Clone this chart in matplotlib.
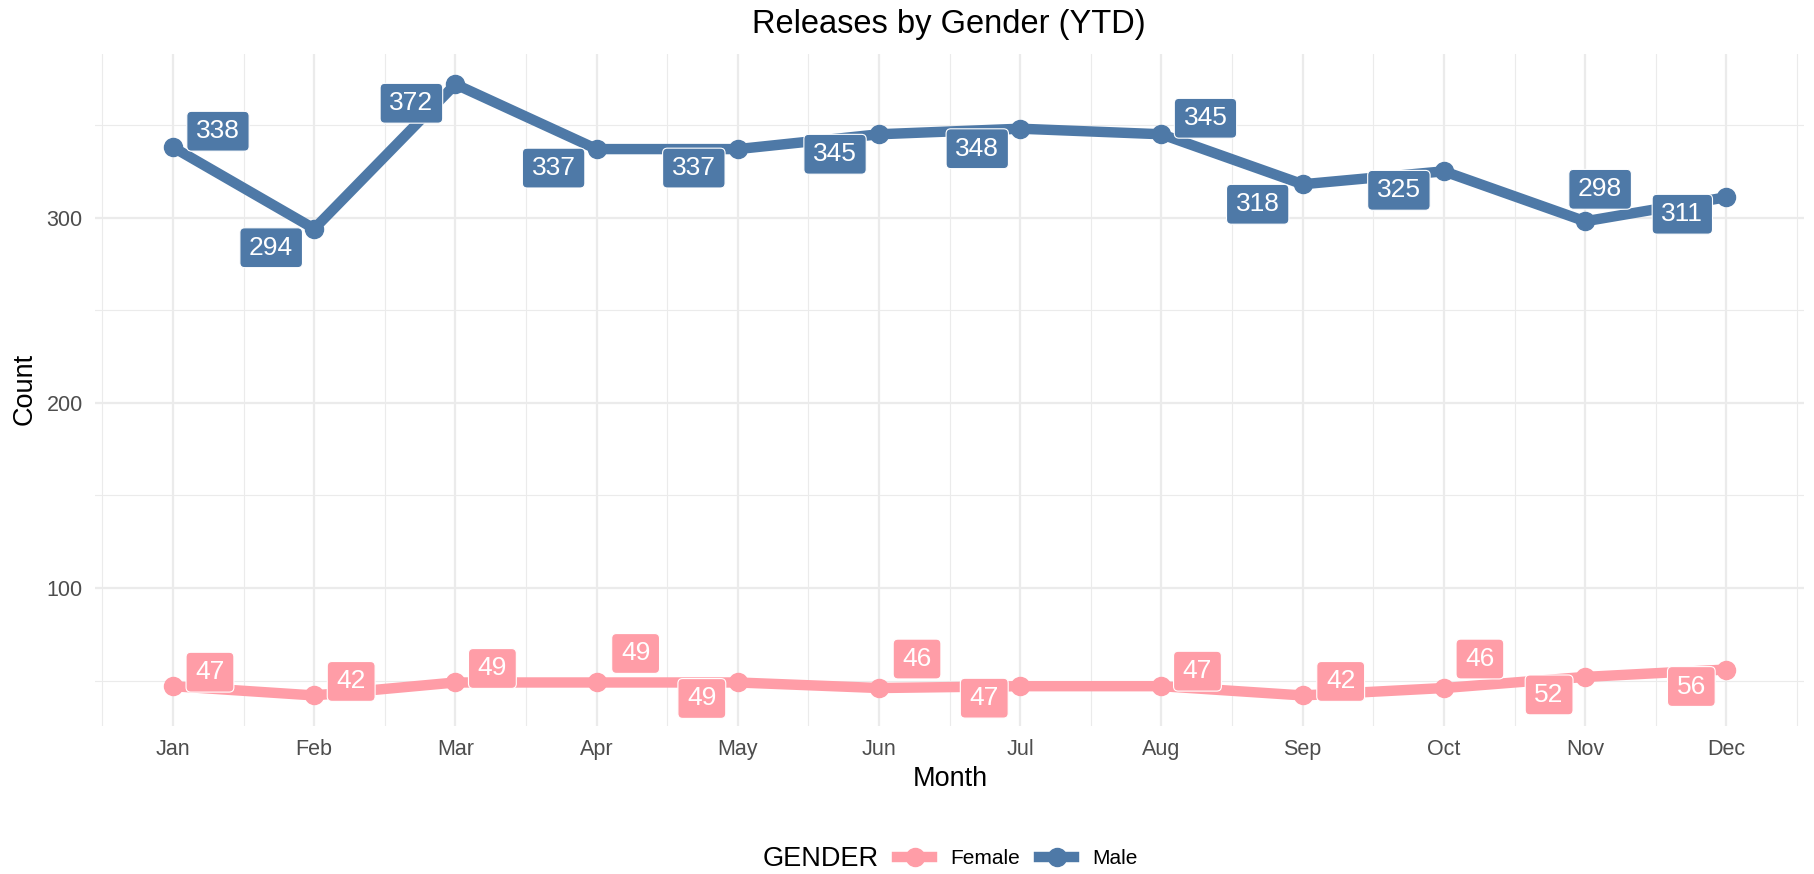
import matplotlib
matplotlib.use("Agg")
import matplotlib.pyplot as plt
from matplotlib.lines import Line2D
from matplotlib.patches import BoxStyle
import numpy as np

plt.rcParams['font.family'] = ['Liberation Sans', 'DejaVu Sans']

months = ['Jan', 'Feb', 'Mar', 'Apr', 'May', 'Jun',
          'Jul', 'Aug', 'Sep', 'Oct', 'Nov', 'Dec']
female = [47, 42, 49, 49, 49, 46, 47, 47, 42, 46, 52, 56]
male = [338, 294, 372, 337, 337, 345, 348, 345, 318, 325, 298, 311]

# label offsets (pixels) mimicking ggrepel placement
male_off = [(45, -16), (-43, 19), (-44, 19), (-43, 19), (-44, 19), (-44, 20),
            (-43, 20), (44, -16), (-45, 20), (-45, 19), (15, -32), (-44, 17)]
female_off = [(37, -14), (37, -14), (37, -14), (39, -29), (-36, 16), (38, -29),
              (-36, 12), (36, -15), (38, -14), (36, -29), (-36, 18), (-35, 17)]

c_female = '#FF9DA7'
c_male = '#4E79A7'


def label_box(x0, y0, width, height, mutation_size):
    # geom_label-like box: wider horizontal padding than vertical
    px, py = 0.35 * mutation_size, 0.30 * mutation_size
    rnd = BoxStyle.Round(pad=0, rounding_size=0.18)
    return rnd(x0 - px, y0 - py, width + 2 * px, height + 2 * py, mutation_size)


W, H = 1815, 874
fig = plt.figure(figsize=(W / 100, H / 100), dpi=100)
ax = fig.add_axes([95.3 / W, 1 - 726 / H, (1804 - 95.3) / W, (726 - 53.7) / H])

x = np.arange(1, len(months) + 1)

ax.set_xlim(0.45, 12.55)
ax.set_ylim(25.5, 388.5)
ax.set_xticks(x)
ax.set_xticklabels(months)
ax.set_yticks([100, 200, 300])
ax.set_xticks(np.arange(0.5, 13, 1), minor=True)
ax.set_yticks([50, 150, 250, 350], minor=True)
ax.grid(which='major', color='#EBEBEB', lw=1.6)
ax.grid(which='minor', color='#EBEBEB', lw=0.8)
ax.set_axisbelow(True)
for s in ax.spines.values():
    s.set_visible(False)
ax.tick_params(which='both', length=0)
ax.tick_params(axis='x', labelsize=15.5, colors='#4D4D4D', pad=9.5)
ax.tick_params(axis='y', labelsize=15.5, colors='#4D4D4D', pad=9)

for vals, offs, col in [(female, female_off, c_female), (male, male_off, c_male)]:
    ax.plot(x, vals, color=col, lw=7.5, marker='o', ms=13, zorder=3,
            solid_capstyle='butt')
    for xi, v, (dx, dy) in zip(x, vals, offs):
        ax.annotate(str(v), (xi, v), xytext=(dx, -dy), textcoords='offset pixels',
                    ha='center', va='center', color='white', fontsize=19, zorder=5,
                    bbox=dict(boxstyle=label_box, fc=col, ec='white', lw=0.8))

fig.text(949 / W, 1 - 24 / H, 'Releases by Gender (YTD)', ha='center', va='center',
         fontsize=23.5)
fig.text(950 / W, 1 - 779 / H, 'Month', ha='center', va='center', fontsize=19.5)
fig.text(25 / W, 1 - 389 / H, 'Count', ha='center', va='center', fontsize=19.5,
         rotation=90)

# legend
fig.text(763 / W, 1 - 859 / H, 'GENDER', ha='left', va='center', fontsize=19.5)
handles = [Line2D([], [], color=c_female, lw=7.5, marker='o', ms=13),
           Line2D([], [], color=c_male, lw=7.5, marker='o', ms=13)]
fig.legend(handles, ['Female', 'Male'], loc='center left',
           bbox_to_anchor=(897 / W, 1 - 859 / H), ncol=2, frameon=False,
           fontsize=15, handlelength=1.7, handletextpad=0.86, columnspacing=0.9,
           borderpad=0, borderaxespad=0)

fig.savefig('out.png', dpi=100)
